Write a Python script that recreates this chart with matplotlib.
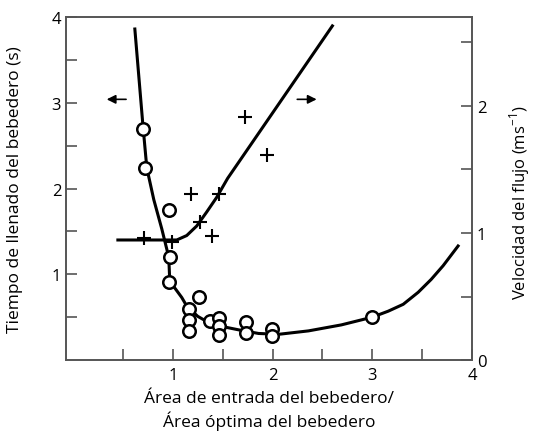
import numpy as np
import matplotlib.pyplot as plt

plt.rcParams['font.family'] = ['Open Sans', 'DejaVu Sans']

# filling time (circles, left axis)
area_t = [0.70, 0.72, 0.96, 0.97, 0.96, 1.26, 1.16, 1.16, 1.16, 1.37,
          1.46, 1.46, 1.46, 1.73, 1.73, 1.99, 1.99, 3.00]
time_s = [2.69, 2.24, 1.75, 1.20, 0.91, 0.73, 0.59, 0.47, 0.34, 0.45,
          0.49, 0.40, 0.29, 0.44, 0.31, 0.36, 0.28, 0.50]
curve_t_x = [0.62, 0.70, 0.74, 0.81, 0.89, 0.96, 0.97, 1.09, 1.14,
             1.25, 1.34, 1.50, 1.67, 1.86, 2.06, 2.36, 2.69, 3.00, 3.16,
             3.31, 3.46, 3.59, 3.71, 3.86]
curve_t_y = [3.86, 2.75, 2.24, 1.87, 1.53, 1.20, 0.92, 0.73, 0.63,
             0.51, 0.45, 0.39, 0.35, 0.31, 0.30, 0.34, 0.41, 0.50, 0.57,
             0.65, 0.79, 0.94, 1.10, 1.33]

# flow velocity (crosses, right axis)
area_v = [0.71, 0.99, 1.18, 1.27, 1.39, 1.46, 1.72, 1.94]
vel = [0.96, 0.93, 1.31, 1.09, 0.98, 1.31, 1.91, 1.61]
curve_v_x = [0.45, 0.92, 1.04, 1.14, 1.24, 1.34, 1.44, 1.55, 2.60]
curve_v_y = [0.945, 0.945, 0.945, 0.98, 1.055, 1.165, 1.28, 1.43, 2.63]

spine_c = '#555555'

fig = plt.figure(figsize=(5.34, 4.35), dpi=100)
ax = fig.add_axes([0.1236, 0.170, 0.7604, 0.7886])
ax2 = ax.twinx()

ax.plot(curve_t_x, curve_t_y, color='black', lw=2.2, zorder=2,
        solid_joinstyle='round')
ax.plot(area_t, time_s, 'o', ms=9, mfc='white', mec='black', mew=1.8, zorder=3)
ax2.plot(curve_v_x, curve_v_y, color='black', lw=2.2, zorder=2,
         solid_joinstyle='round')
ax2.plot(area_v, vel, '+', ms=10, mec='black', mew=1.5, zorder=3)

ax.set_xlim(-0.07, 4.0)
ax.set_ylim(0, 4)
ax2.set_ylim(0, 2.7)

ax.set_xticks([1, 2, 3, 4])
ax.set_xticks([0.5, 1.5, 2.5, 3.5], minor=True)
ax.set_yticks([1, 2, 3, 4])
ax.set_yticks([0.5, 1.5, 2.5, 3.5], minor=True)
ax2.set_yticks([0, 1, 2])
ax2.set_yticks([0.5, 1.5, 2.5], minor=True)

for a in (ax, ax2):
    a.tick_params(which='both', direction='in', length=8, width=1.2,
                  color=spine_c, labelsize=12)
    for s in a.spines.values():
        s.set_color(spine_c)
        s.set_linewidth(1.2)
ax.tick_params(axis='x', pad=5)

ax.annotate('', xy=(0.31, 3.04), xytext=(0.56, 3.04),
            arrowprops=dict(arrowstyle='-|>', color='black', lw=1.2,
                            mutation_scale=13))
ax.annotate('', xy=(2.47, 3.04), xytext=(2.22, 3.04),
            arrowprops=dict(arrowstyle='-|>', color='black', lw=1.2,
                            mutation_scale=13))

ax.set_xlabel('Área de entrada del bebedero/\nÁrea óptima del bebedero',
              fontsize=12.5, linespacing=1.3, labelpad=5)
ax.set_ylabel('Tiempo de llenado del bebedero (s)', fontsize=12.5)
ax2.set_ylabel('Velocidad del flujo (ms$^{\\mathregular{-1}}$)', fontsize=12)
ax.yaxis.set_label_coords(-0.105, 0.5)
ax2.yaxis.set_label_coords(1.088, 0.46)

fig.savefig('out.png', dpi=100)
